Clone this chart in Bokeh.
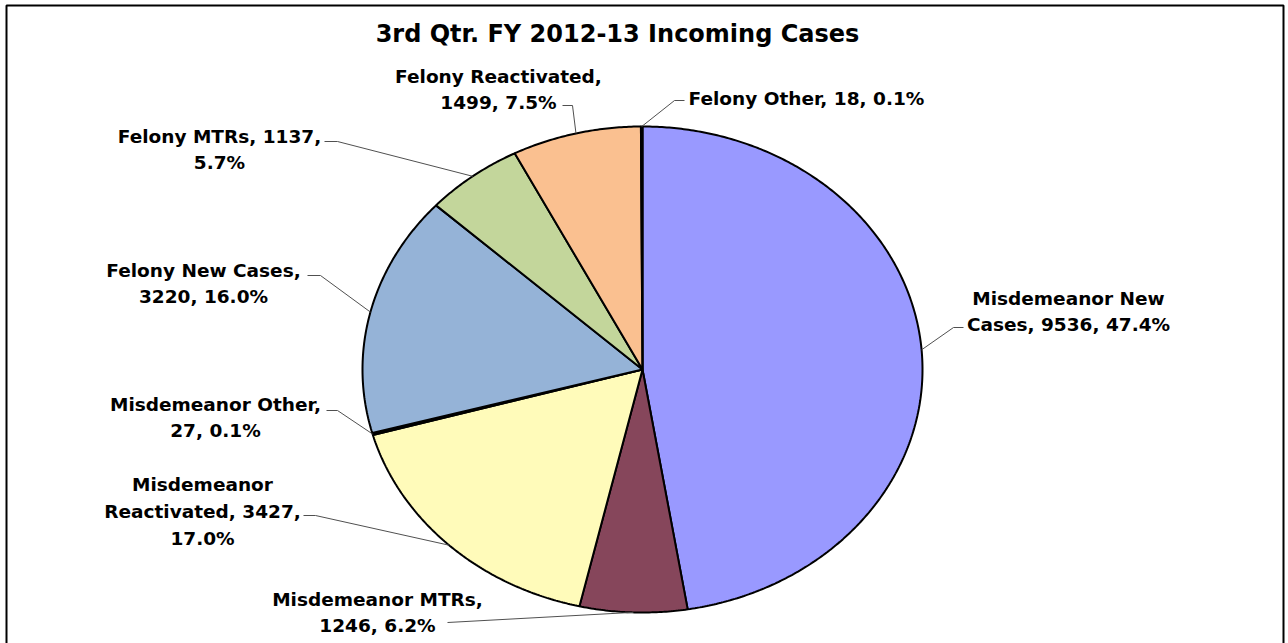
import numpy as np
from bokeh.plotting import figure
from bokeh.models import Range1d, ColumnDataSource
from bokeh.embed import file_html
from bokeh.resources import INLINE
from bokeh.core.properties import value

# ---------------- data ----------------
title_text = "3rd Qtr. FY 2012-13 Incoming Cases"
categories = [
    "Misdemeanor New Cases",
    "Misdemeanor MTRs",
    "Misdemeanor Reactivated",
    "Misdemeanor Other",
    "Felony New Cases",
    "Felony MTRs",
    "Felony Reactivated",
    "Felony Other",
]
counts = [9536, 1246, 3427, 27, 3220, 1137, 1499, 18]
colors = ["#9999FF", "#86465B", "#FFFBBA", "#CCFFFF",
          "#95B3D7", "#C3D69B", "#FAC090", "#FF8080"]
# word index after which the label wraps
label_breaks = [[1], [1], [0, 2], [1], [2], [2], [1], []]

# ---------------- layout (screen px) ----------------
OFF = 0
W, H = 1288, 643
CX, CY, RX, RY = 642 - OFF, 369 - OFF, 280, 243
label_pos = [(1068, 311), (377, 612), (202, 511), (215, 417),
             (203, 283), (219, 149), (498, 89), (688, 98)]
label_align = ["center"] * 7 + ["left"]
leader_pts = [
    [(963, 327), (953, 327)],
    [(447, 622)],
    [(303, 515), (315, 515)],
    [(326, 410), (337, 410)],
    [(307, 275), (320, 275)],
    [(324, 141), (337, 141)],
    [(562, 105), (572, 105)],
    [(684, 100), (674, 100)],
]

# ---------------- computation ----------------
vals = np.array(counts, dtype=float)
total = vals.sum()
frac = vals / total
ends = np.cumsum(frac) * 2 * np.pi
starts = ends - frac * 2 * np.pi
mids = (starts + ends) / 2


def ell(theta):
    return CX + RX * np.sin(theta), CY - RY * np.cos(theta)


xs, ys = [], []
for a0, a1 in zip(starts, ends):
    n = max(3, int((a1 - a0) / (2 * np.pi) * 720) + 2)
    th = np.linspace(a0, a1, n)
    ex, ey = ell(th)
    xs.append([CX] + list(ex) + [CX])
    ys.append([CY] + list(ey) + [CY])

labels = []
for cat, v, f, br in zip(categories, counts, frac, label_breaks):
    words = f"{cat}, {v}, {f * 100:.1f}%".split(" ")
    s = ""
    for i, w in enumerate(words):
        s += w
        if i < len(words) - 1:
            s += "\n" if i in br else " "
    labels.append(s)

p = figure(width=W, height=H, x_range=Range1d(0, W), y_range=Range1d(H, 0),
           output_backend="svg", toolbar_location=None, min_border=0)
p.axis.visible = False
p.grid.visible = False
p.outline_line_color = None
p.background_fill_color = "white"
p.border_fill_color = "white"

# chart frame (left, top, right)
p.line([6, 6, 1283, 1283], [H + 5, 5, 5, H + 5],
       line_color="black", line_width=2)

p.patches(xs, ys, fill_color=colors, line_color="black", line_width=2)

# leader lines
lx, ly = [], []
for pts, m in zip(leader_pts, mids):
    px, py = ell(m)
    lx.append([x - OFF for x, _ in pts] + [px])
    ly.append([y - OFF for _, y in pts] + [py])
p.multi_line(lx, ly, line_color="#505050", line_width=1)

src = ColumnDataSource(dict(
    x=[x - OFF for x, _ in label_pos], y=[y - OFF for _, y in label_pos],
    t=labels, a=label_align))
p.text("x", "y", text="t", source=src, text_align="a", text_baseline="middle",
       text_font=value("DejaVu Sans"), text_font_style="bold",
       text_font_size="18.5px", text_line_height=1.27, text_color="black")

p.text([617 - OFF], [33 - OFF], text=[title_text], text_align="center",
       text_baseline="middle", text_font=value("DejaVu Sans"),
       text_font_style="bold", text_font_size="24px", text_color="black")

open("out.html", "w").write(file_html(p, INLINE))
